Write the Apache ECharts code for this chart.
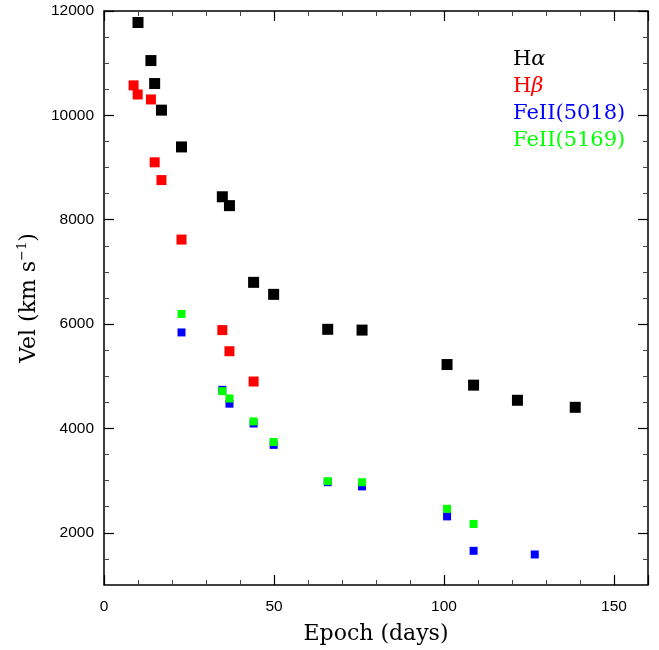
<!DOCTYPE html>
<html>
<head>
<meta charset="utf-8">
<script src="https://cdn.jsdelivr.net/npm/echarts@6/dist/echarts.min.js"></script>
<style>
  html, body { margin: 0; padding: 0; background: #fff; }
  #chart { width: 659px; height: 650px; }
</style>
</head>
<body>
<div id="chart"></div>
<script>
// epochs (days) and velocities (km/s)
const haDays = [10, 13.8, 14.9, 16.9, 22.8, 34.8, 36.9, 44, 49.9, 65.8, 75.9, 100.9, 108.7, 121.6, 138.6]
const haVel = [11780, 11050, 10610, 10100, 9395, 8440, 8270, 6800, 6570, 5900, 5885, 5225, 4830, 4540, 4405]

const hbDays = [8.7, 9.9, 13.8, 14.9, 16.9, 22.8, 34.8, 36.9, 44]
const hbVel = [10575, 10400, 10305, 9100, 8760, 7620, 5885, 5480, 4900]

const fe5018Days = [22.8, 34.8, 36.9, 44, 49.9, 65.8, 75.9, 100.9, 108.7, 126.7]
const fe5018Vel = [5840, 4740, 4475, 4095, 3685, 2970, 2890, 2315, 1655, 1585]

const fe5169Days = [22.8, 34.8, 36.9, 44, 49.9, 65.8, 75.9, 100.9, 108.7]
const fe5169Vel = [6195, 4715, 4575, 4135, 3740, 2990, 2970, 2460, 2170]

const xTicks = [0, 50, 100, 150]
const yTicks = [2000, 4000, 6000, 8000, 10000, 12000]

const pair = (xs, ys) => xs.map((x, i) => [x, ys[i]])

const serif = '"DejaVu Serif", "Liberation Serif", serif'
const sans = '"Liberation Sans", Arial, sans-serif'

const tickLine = {color: '#000', width: 1.2}
const minorLine = {color: '#444', width: 1}

let chart = echarts.init(document.getElementById('chart'))
chart.setOption({
    animation: false,
    backgroundColor: '#fff',
    grid: {left: 104, top: 11, right: 11, bottom: 63, show: true, borderColor: '#000', borderWidth: 1.5, backgroundColor: 'transparent'},
    legend: {
        orient: 'vertical',
        left: 503,
        top: 44,
        itemWidth: 0,
        itemHeight: 0,
        itemGap: 6,
        icon: 'rect',
        selectedMode: false,
        textStyle: {
            fontFamily: serif, fontSize: 21, lineHeight: 20, padding: 0,
            rich: {
                ha: {fontFamily: serif, fontSize: 21, color: '#000'},
                hag: {fontFamily: serif, fontSize: 21, color: '#000', fontStyle: 'italic'},
                hb: {fontFamily: serif, fontSize: 21, color: '#ff0000'},
                hbg: {fontFamily: serif, fontSize: 21, color: '#ff0000', fontStyle: 'italic'}
            }
        },
        formatter: name => {
            if (name === 'Hα') return '{ha|H}{hag|α}'
            if (name === 'Hβ') return '{hb|H}{hbg|β}'
            return name
        },
        data: [
            {name: 'Hα', textStyle: {color: '#000'}},
            {name: 'Hβ', textStyle: {color: '#ff0000'}},
            {name: 'FeII(5018)', textStyle: {color: '#0000ff'}},
            {name: 'FeII(5169)', textStyle: {color: '#00ff00'}}
        ]
    },
    xAxis: [
        {
            type: 'value', min: 0, max: 160, interval: 50, position: 'bottom',
            name: 'Epoch (days)', nameLocation: 'middle', nameGap: 38,
            nameTextStyle: {fontFamily: serif, fontSize: 22, color: '#000'},
            axisLine: {show: false},
            axisTick: {show: true, inside: true, length: 10, lineStyle: tickLine},
            minorTick: {show: true, splitNumber: 5, length: 5, lineStyle: minorLine},
            splitLine: {show: false},
            axisLabel: {color: '#000', fontFamily: sans, fontSize: 15.5, margin: 14,
                formatter: v => xTicks.includes(v) ? String(v) : ''}
        },
        {
            type: 'value', min: 0, max: 160, interval: 50, position: 'top',
            axisLine: {show: false},
            axisTick: {show: true, inside: true, length: 10, lineStyle: tickLine},
            minorTick: {show: true, splitNumber: 5, length: 5, lineStyle: minorLine},
            splitLine: {show: false},
            axisLabel: {show: false}
        }
    ],
    yAxis: [
        // short ticks every 500, labels every 2000
        {
            type: 'value', min: 1000, max: 12000, interval: 500, position: 'left',
            name: '{a|Vel (km s}{s|−1}{a|)}', nameLocation: 'middle', nameGap: 62, nameRotate: 90,
            nameTextStyle: {
                color: '#000',
                rich: {
                    a: {fontFamily: serif, fontSize: 22, color: '#000'},
                    s: {fontFamily: serif, fontSize: 13, color: '#000', verticalAlign: 'top', padding: [0, 0, 12, 0]}
                }
            },
            axisLine: {show: false},
            axisTick: {show: true, inside: true, length: 5, lineStyle: minorLine},
            splitLine: {show: false},
            axisLabel: {color: '#000', fontFamily: sans, fontSize: 15.5, margin: 10,
                customValues: yTicks, formatter: v => String(v)}
        },
        // long ticks every 2000
        {
            type: 'value', min: 1000, max: 12000, interval: 500, position: 'left', offset: 0,
            axisLine: {show: false},
            axisTick: {show: true, inside: true, length: 10, lineStyle: tickLine, customValues: yTicks},
            splitLine: {show: false},
            axisLabel: {show: false}
        },
        {
            type: 'value', min: 1000, max: 12000, interval: 500, position: 'right', offset: 0,
            axisLine: {show: false},
            axisTick: {show: true, inside: true, length: 5, lineStyle: minorLine},
            splitLine: {show: false},
            axisLabel: {show: false}
        },
        {
            type: 'value', min: 1000, max: 12000, interval: 500, position: 'right', offset: 0,
            axisLine: {show: false},
            axisTick: {show: true, inside: true, length: 10, lineStyle: tickLine, customValues: yTicks},
            splitLine: {show: false},
            axisLabel: {show: false}
        }
    ],
    series: [
        {name: 'Hα', type: 'scatter', symbol: 'rect', symbolSize: 11,
            itemStyle: {color: '#000', opacity: 1}, data: pair(haDays, haVel)},
        {name: 'Hβ', type: 'scatter', symbol: 'rect', symbolSize: 10,
            itemStyle: {color: '#ff0000', opacity: 1}, data: pair(hbDays, hbVel)},
        {name: 'FeII(5018)', type: 'scatter', symbol: 'rect', symbolSize: 8,
            itemStyle: {color: '#0000ff', opacity: 1}, data: pair(fe5018Days, fe5018Vel)},
        {name: 'FeII(5169)', type: 'scatter', symbol: 'rect', symbolSize: 8,
            itemStyle: {color: '#00ff00', opacity: 1}, data: pair(fe5169Days, fe5169Vel)}
    ]
})
</script>
</body>
</html>
